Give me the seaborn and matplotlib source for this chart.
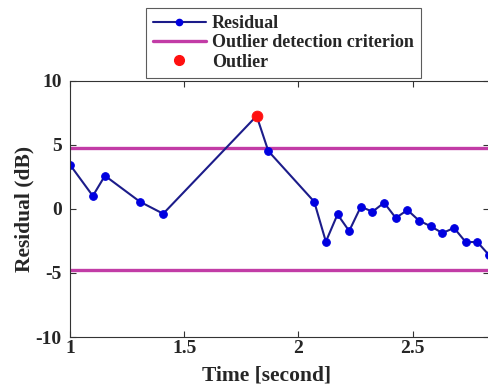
import numpy as np
import matplotlib.pyplot as plt
import pandas as pd
import seaborn as sns
from matplotlib.lines import Line2D

# residual samples
time_s = [1.0, 1.10, 1.153, 1.306, 1.408, 1.817, 1.868, 2.069, 2.12, 2.171, 2.222,
          2.273, 2.324, 2.375, 2.426, 2.477, 2.528, 2.579, 2.63, 2.681, 2.732,
          2.783, 2.834]
residual_db = [3.46, 1.02, 2.6, 0.57, -0.37, 7.27, 4.53, 0.57, -2.55, -0.42, -1.72,
               0.18, -0.21, 0.49, -0.70, -0.08, -0.91, -1.35, -1.88, -1.48, -2.58,
               -2.58, -3.6]
criterion = 4.8
outlier_t = [1.817]
outlier_r = [7.27]

df = pd.DataFrame({"t": time_s, "r": residual_db})

sns.set_style("ticks")
plt.rcParams['font.family'] = ['Liberation Serif', 'DejaVu Serif']
plt.rcParams['font.weight'] = 'bold'
plt.rcParams['axes.unicode_minus'] = False

fig = plt.figure(figsize=(4.89, 3.92), dpi=100)
ax = fig.add_axes([0.1431, 0.1403, 0.8569, 0.6531])

sns.lineplot(data=df, x="t", y="r", ax=ax, color="#1c1c8a", linewidth=1.5,
             marker="o", markersize=5.5, markerfacecolor="#0000e0",
             markeredgecolor="#0000e0")
ax.axhline(criterion, color="#c23ca6", linewidth=2.4, zorder=1)
ax.axhline(-criterion, color="#c23ca6", linewidth=2.4, zorder=1)
sns.scatterplot(x=outlier_t, y=outlier_r, ax=ax, color="#ff1010", s=60,
                edgecolor="#ff1010", zorder=5)

ax.set_xlim(1, 2.834)
ax.set_ylim(-10, 10)
ax.set_xticks([1, 1.5, 2, 2.5])
ax.set_xticklabels(["1", "1.5", "2", "2.5"])
ax.set_yticks([-10, -5, 0, 5, 10])
ax.tick_params(direction="in", top=True, right=True, labelsize=14, length=4,
               color="#333333")
ax.tick_params(axis="x", pad=2)
ax.tick_params(axis="y", pad=6)
for lab in ax.get_xticklabels() + ax.get_yticklabels():
    lab.set_fontweight("bold")
for sp in ax.spines.values():
    sp.set_visible(True)
    sp.set_color("#333333")
    sp.set_linewidth(0.8)

ax.set_xlabel("Time [second]", fontsize=15.5, fontweight="bold", labelpad=1)
ax.xaxis.set_label_coords(0.47, -0.11)
ax.set_ylabel("Residual (dB)", fontsize=15.5, fontweight="bold", labelpad=1)

handles = [
    Line2D([], [], color="#1c1c8a", linewidth=1.5, marker="o", markersize=4.5,
           markerfacecolor="#0000e0", markeredgecolor="#0000e0"),
    Line2D([], [], color="#c23ca6", linewidth=2.4),
    Line2D([], [], color="none", marker="o", markersize=7,
           markerfacecolor="#ff1010", markeredgecolor="#ff1010"),
]
leg = fig.legend(handles, ["Residual", "Outlier detection criterion", "Outlier"],
                 loc="upper left", bbox_to_anchor=(146 / 489, 1 - 8 / 392),
                 fancybox=False, frameon=True, edgecolor="#333333",
                 prop={"size": 13, "weight": "bold"}, handlelength=2.9,
                 borderpad=0.4, labelspacing=0.12, handletextpad=0.35,
                 borderaxespad=0)
leg.get_frame().set_linewidth(0.8)

fig.savefig("out.png", dpi=100)
